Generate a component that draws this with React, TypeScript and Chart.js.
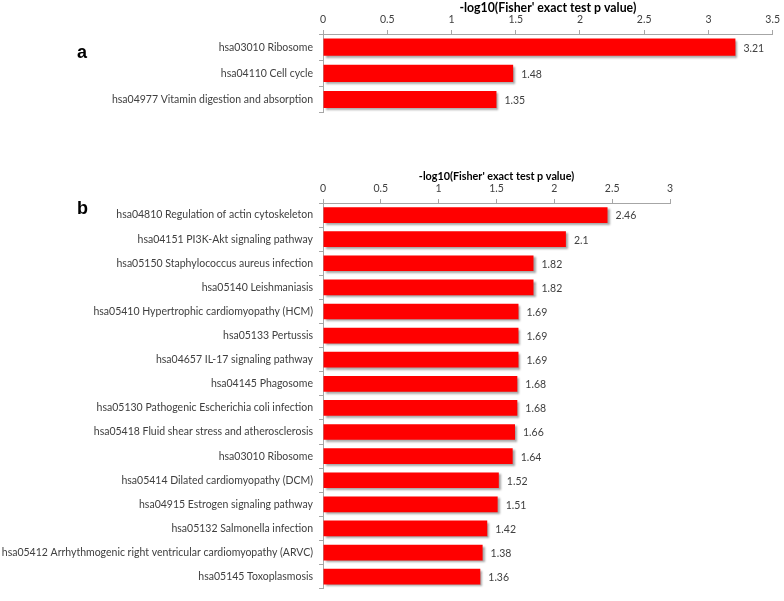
import React, { useEffect, useRef } from 'react';
import { Chart, registerables } from 'chart.js';

Chart.register(...registerables);

const axisTitle = "-log10(Fisher' exact test p value)";

const categoriesA = [
  'hsa03010 Ribosome',
  'hsa04110 Cell cycle',
  'hsa04977 Vitamin digestion and absorption',
];
const valuesA = [3.21, 1.48, 1.35];
const maxA = 3.5;

const categoriesB = [
  'hsa04810 Regulation of actin cytoskeleton',
  'hsa04151 PI3K-Akt signaling pathway',
  'hsa05150 Staphylococcus aureus infection',
  'hsa05140 Leishmaniasis',
  'hsa05410 Hypertrophic cardiomyopathy (HCM)',
  'hsa05133 Pertussis',
  'hsa04657 IL-17 signaling pathway',
  'hsa04145 Phagosome',
  'hsa05130 Pathogenic Escherichia coli infection',
  'hsa05418 Fluid shear stress and atherosclerosis',
  'hsa03010 Ribosome',
  'hsa05414 Dilated cardiomyopathy (DCM)',
  'hsa04915 Estrogen signaling pathway',
  'hsa05132 Salmonella infection',
  'hsa05412 Arrhythmogenic right ventricular cardiomyopathy (ARVC)',
  'hsa05145 Toxoplasmosis',
];
const valuesB = [2.46, 2.1, 1.82, 1.82, 1.69, 1.69, 1.69, 1.68, 1.68, 1.66, 1.64, 1.52, 1.51, 1.42, 1.38, 1.36];
const maxB = 3;

const tickStep = 0.5;

const FONT = 'Lato, "Open Sans", sans-serif';
const TEXT = '#404040';
const AXIS = '#a6a6a6';
const FS = 10.5;

const barPlugin = {
  id: 'barDeco',
  beforeDatasetsDraw(chart: any) {
    const ctx = chart.ctx;
    ctx.save();
    ctx.shadowColor = 'rgba(0,0,0,0.35)';
    ctx.shadowOffsetX = 2;
    ctx.shadowOffsetY = 2;
    ctx.shadowBlur = 2;
  },
  afterDatasetsDraw(chart: any) {
    const ctx = chart.ctx;
    ctx.restore();
    ctx.save();
    ctx.fillStyle = TEXT;
    ctx.font = `${FS}px ${FONT}`;
    ctx.textAlign = 'left';
    ctx.textBaseline = 'middle';
    const meta = chart.getDatasetMeta(0);
    const data = chart.data.datasets[0].data;
    meta.data.forEach((bar: any, i: number) => {
      ctx.fillText(String(data[i]), bar.x + 8, bar.y + 1);
    });
    ctx.restore();
  },
};

function Panel(props: {
  top: number;
  height: number;
  labels: string[];
  values: number[];
  max: number;
  padRight: number;
  padBottom: number;
  titleSize: number;
}) {
  const ref = useRef<HTMLCanvasElement | null>(null);
  useEffect(() => {
    if (!ref.current) return;
    const chart = new Chart(ref.current, {
      type: 'bar',
      data: {
        labels: props.labels,
        datasets: [
          {
            data: props.values,
            backgroundColor: '#ff0000',
            borderWidth: 0,
            barPercentage: 0.65,
            categoryPercentage: 1,
          },
        ],
      },
      options: {
        indexAxis: 'y',
        responsive: false,
        animation: false,
        devicePixelRatio: 1,
        layout: { padding: { left: 0, right: props.padRight, top: 0, bottom: props.padBottom } },
        plugins: { legend: { display: false }, tooltip: { enabled: false } },
        scales: {
          x: {
            position: 'top',
            min: 0,
            max: props.max,
            ticks: {
              stepSize: tickStep,
              color: TEXT,
              font: { family: FONT, size: FS },
              padding: 4,
              callback: (v: any) => String(Math.round(Number(v) * 10) / 10),
            },
            grid: { drawOnChartArea: false, tickLength: 4, color: AXIS },
            border: { color: AXIS },
            title: {
              display: true,
              text: axisTitle,
              color: '#000',
              font: { family: FONT, size: props.titleSize, weight: 'bold' },
              padding: { top: 1, bottom: 0 },
            },
            afterFit: (s: any) => {
              s.height = 34;
            },
          },
          y: {
            ticks: { color: TEXT, font: { family: FONT, size: FS }, padding: 6, autoSkip: false },
            grid: { offset: true, drawOnChartArea: false, tickLength: 4, color: AXIS },
            border: { color: AXIS },
            afterFit: (s: any) => {
              s.width = 323;
            },
          },
        },
      } as any,
      plugins: [barPlugin],
    });
    return () => chart.destroy();
  }, []);
  return (
    <canvas
      ref={ref}
      width={784}
      height={props.height}
      style={{ position: 'absolute', left: 0, top: props.top, width: 784, height: props.height }}
    />
  );
}

export default function App() {
  const letter: React.CSSProperties = {
    position: 'absolute',
    left: 77,
    fontFamily: '"Liberation Sans", Arial, sans-serif',
    fontWeight: 'bold',
    fontSize: 18,
    lineHeight: '20px',
    color: '#000',
  };
  return (
    <div style={{ position: 'absolute', left: 0, top: 0, width: 784, height: 601, background: '#fff', overflow: 'hidden' }}>
      <Panel top={0} height={125} labels={categoriesA} values={valuesA} max={maxA} padRight={9} padBottom={3} titleSize={12.3} />
      <Panel top={169} height={432} labels={categoriesB} values={valuesB} max={maxB} padRight={114} padBottom={1} titleSize={10.8} />
      <div style={{ ...letter, top: 42 }}>a</div>
      <div style={{ ...letter, top: 198 }}>b</div>
    </div>
  );
}
